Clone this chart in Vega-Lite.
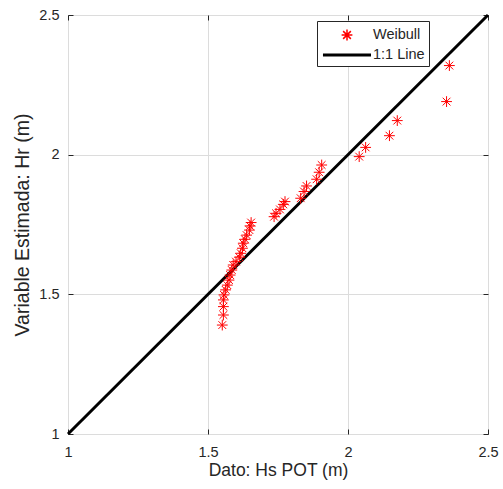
{
  "$schema": "https://vega.github.io/schema/vega-lite/v6.json",
  "autosize": "none",
  "padding": {"left": 68, "top": 15, "right": 15, "bottom": 55},
  "width": 420,
  "height": 419,
  "background": "white",
  "config": {
    "font": "Liberation Sans",
    "view": {"stroke": "#262626", "strokeWidth": 1},
    "axis": {"labelColor": "#262626", "titleColor": "#262626", "labelFontSize": 14.5, "domain": false, "tickColor": "#262626", "gridColor": "#dcdcdc", "gridOpacity": 1, "titleFontWeight": "normal"},
    "legend": {"labelFontSize": 14.5, "labelColor": "#262626", "symbolSize": 324}
  },
  "resolve": {"axis": {"x": "independent", "y": "independent"}},
  "layer": [
    {
      "data": {"values": [{"x": 1, "y": 1}, {"x": 2.5, "y": 2.5}]},
      "mark": {"type": "line", "color": "black", "strokeWidth": 3},
      "encoding": {
        "x": {"field": "x", "type": "quantitative", "scale": {"domain": [1, 2.5], "nice": false, "zero": false},
          "axis": {"orient": "top", "labels": false, "title": null, "grid": false, "values": [1, 1.5, 2, 2.5], "tickSize": -5}},
        "y": {"field": "y", "type": "quantitative", "scale": {"domain": [1, 2.5], "nice": false, "zero": false},
          "axis": {"orient": "right", "labels": false, "title": null, "grid": false, "values": [1, 1.5, 2, 2.5], "tickSize": -5}}
      }
    },
    {
      "data": {"values": [
        {"x": 1.551, "y": 1.390, "series": "Weibull"},
        {"x": 1.555, "y": 1.426, "series": "Weibull"},
        {"x": 1.555, "y": 1.456, "series": "Weibull"},
        {"x": 1.555, "y": 1.480, "series": "Weibull"},
        {"x": 1.557, "y": 1.498, "series": "Weibull"},
        {"x": 1.563, "y": 1.516, "series": "Weibull"},
        {"x": 1.569, "y": 1.533, "series": "Weibull"},
        {"x": 1.575, "y": 1.551, "series": "Weibull"},
        {"x": 1.579, "y": 1.569, "series": "Weibull"},
        {"x": 1.585, "y": 1.587, "series": "Weibull"},
        {"x": 1.590, "y": 1.605, "series": "Weibull"},
        {"x": 1.600, "y": 1.617, "series": "Weibull"},
        {"x": 1.612, "y": 1.633, "series": "Weibull"},
        {"x": 1.617, "y": 1.647, "series": "Weibull"},
        {"x": 1.623, "y": 1.665, "series": "Weibull"},
        {"x": 1.626, "y": 1.683, "series": "Weibull"},
        {"x": 1.632, "y": 1.697, "series": "Weibull"},
        {"x": 1.638, "y": 1.712, "series": "Weibull"},
        {"x": 1.648, "y": 1.730, "series": "Weibull"},
        {"x": 1.650, "y": 1.745, "series": "Weibull"},
        {"x": 1.654, "y": 1.757, "series": "Weibull"},
        {"x": 1.736, "y": 1.778, "series": "Weibull"},
        {"x": 1.743, "y": 1.790, "series": "Weibull"},
        {"x": 1.757, "y": 1.804, "series": "Weibull"},
        {"x": 1.769, "y": 1.822, "series": "Weibull"},
        {"x": 1.775, "y": 1.832, "series": "Weibull"},
        {"x": 1.831, "y": 1.844, "series": "Weibull"},
        {"x": 1.843, "y": 1.868, "series": "Weibull"},
        {"x": 1.852, "y": 1.888, "series": "Weibull"},
        {"x": 1.888, "y": 1.912, "series": "Weibull"},
        {"x": 1.897, "y": 1.937, "series": "Weibull"},
        {"x": 1.906, "y": 1.963, "series": "Weibull"},
        {"x": 2.040, "y": 1.993, "series": "Weibull"},
        {"x": 2.063, "y": 2.026, "series": "Weibull"},
        {"x": 2.148, "y": 2.068, "series": "Weibull"},
        {"x": 2.176, "y": 2.122, "series": "Weibull"},
        {"x": 2.352, "y": 2.190, "series": "Weibull"},
        {"x": 2.362, "y": 2.319, "series": "Weibull"}
      ]},
      "mark": {"type": "point", "filled": false, "strokeWidth": 1, "size": 324, "opacity": 1},
      "encoding": {
        "x": {"field": "x", "type": "quantitative", "scale": {"domain": [1, 2.5], "nice": false, "zero": false},
          "axis": {"orient": "bottom", "title": "Dato: Hs POT (m)", "values": [1, 1.5, 2, 2.5], "format": "~g", "grid": true, "tickSize": -5, "labelPadding": 16, "titleFontSize": 17.5, "titlePadding": 3, "labelFlush": false}},
        "y": {"field": "y", "type": "quantitative", "scale": {"domain": [1, 2.5], "nice": false, "zero": false},
          "axis": {"orient": "left", "title": "Variable Estimada: Hr (m)", "values": [1, 1.5, 2, 2.5], "format": "~g", "grid": true, "tickSize": -5, "labelPadding": 14, "titleFontSize": 19.5, "titlePadding": 6, "labelFlush": false}},
        "color": {"field": "series", "type": "nominal",
          "scale": {"domain": ["Weibull", "1:1 Line"], "range": ["#ff0000", "#000000"]},
          "legend": {"title": null, "orient": "none", "legendX": 249, "legendY": 6, "padding": 4, "strokeColor": "#262626", "fillColor": "white", "symbolOffset": 16, "labelOffset": 16, "rowPadding": 1}},
        "shape": {"field": "series", "type": "nominal",
          "scale": {"domain": ["Weibull", "1:1 Line"], "range": ["M-0.6,0L0.6,0M0,-0.6L0,0.6M-0.43,-0.43L0.43,0.43M-0.43,0.43L0.43,-0.43", "M-2.67,-0.08L2.67,-0.08M-2.67,0L2.67,0M-2.67,0.08L2.67,0.08"]},
          "legend": {"title": null, "orient": "none", "legendX": 249, "legendY": 6, "padding": 4, "strokeColor": "#262626", "fillColor": "white", "symbolOffset": 16, "labelOffset": 16, "rowPadding": 1}}
      }
    }
  ]
}
